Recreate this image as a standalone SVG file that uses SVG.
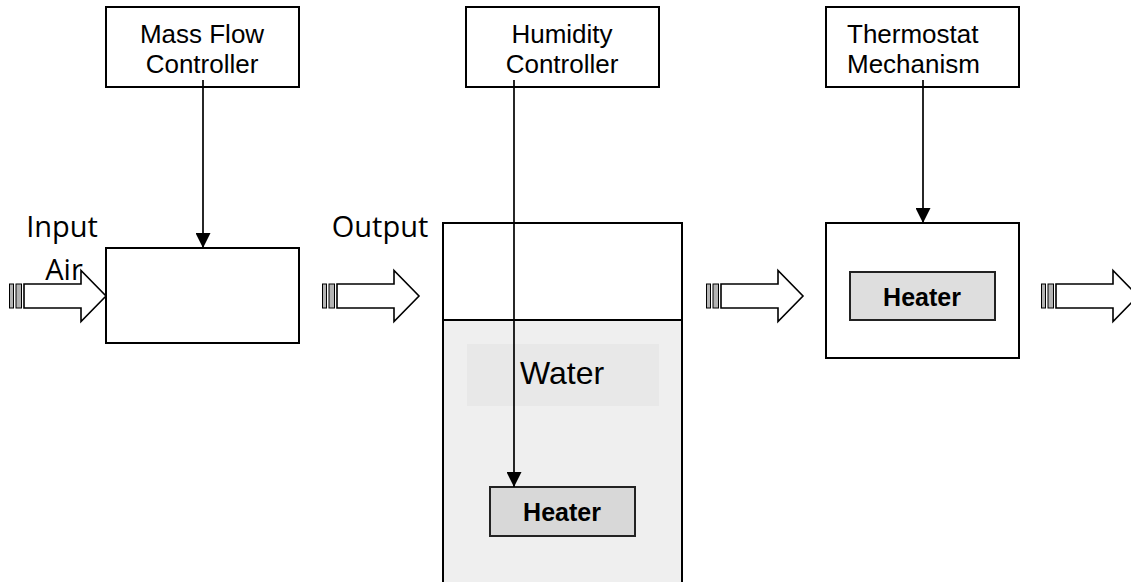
<svg xmlns="http://www.w3.org/2000/svg" width="1131" height="583" viewBox="0 0 1131 583">
<style>
.box{fill:#fff;stroke:#000;stroke-width:2}
.lbl{font-family:"Liberation Sans",Arial,sans-serif;font-size:26px;fill:#000}
.big{font-family:"Open Sans","Liberation Sans",sans-serif;font-size:29px;fill:#000}
.heater{fill:#d8d8d8;stroke:#222;stroke-width:2}
.htxt{font-family:"Liberation Sans",Arial,sans-serif;font-size:25px;font-weight:bold;fill:#000}
.conn{stroke:#000;stroke-width:1.7;fill:none}
.bar{fill:#b4b4b4;stroke:#000;stroke-width:1}
.flow{fill:#fff;stroke:#000;stroke-width:1.6;stroke-linejoin:miter}
</style>
<defs>
<marker id="ah" markerUnits="userSpaceOnUse" markerWidth="15" markerHeight="15" refX="15" refY="7.5" orient="auto">
<path d="M0,0 L15,7.5 L0,15 Z" fill="#000"/>
</marker>
<g id="flowArrow">
<rect class="bar" x="0.5" y="-12" width="4" height="24"/>
<rect class="bar" x="7" y="-12" width="5.5" height="24"/>
<path class="flow" d="M15,-12 H72 V-25.5 L97,0 L72,25.5 V12 H15 Z"/>
</g>
</defs>

<g id="mass-flow-controller">
<rect class="box" x="106" y="7" width="193" height="80"/>
<text class="lbl" x="202" y="43" text-anchor="middle">Mass Flow</text>
<text class="lbl" x="202" y="73" text-anchor="middle">Controller</text>
</g>
<g id="humidity-controller">
<rect class="box" x="466" y="7" width="193" height="80"/>
<text class="lbl" x="562" y="43" text-anchor="middle">Humidity</text>
<text class="lbl" x="562" y="73" text-anchor="middle">Controller</text>
</g>
<g id="thermostat-mechanism">
<rect class="box" x="826" y="7" width="193" height="80"/>
<text class="lbl" x="847" y="43">Thermostat</text>
<text class="lbl" x="847" y="73">Mechanism</text>
</g>

<g id="mass-flow-unit">
<rect class="box" x="106" y="248" width="193" height="95"/>
</g>

<g id="humidifier-tank">
<rect x="443" y="223" width="239" height="97" fill="#fff"/>
<rect x="443" y="320" width="239" height="262" fill="#efefef"/>
<path d="M443,582 V223 H682 V582 M443,320 H682" fill="none" stroke="#000" stroke-width="2"/>
<rect x="467" y="344" width="192" height="62" fill="#e8e8e8"/>
<text x="562" y="384" text-anchor="middle" font-family="Liberation Sans, Arial, sans-serif" font-size="32">Water</text>
</g>
<g id="tank-heater">
<rect class="heater" x="490" y="487" width="145" height="49"/>
<text class="htxt" x="562" y="521" text-anchor="middle">Heater</text>
</g>

<g id="thermostat-chamber">
<rect class="box" x="826" y="223" width="193" height="135"/>
</g>
<g id="chamber-heater">
<rect class="heater" x="850" y="272" width="145" height="48" style="fill:#dedede"/>
<text class="htxt" x="922" y="306" text-anchor="middle">Heater</text>
</g>

<g id="connectors">
<line class="conn" x1="203" y1="80" x2="203" y2="248" marker-end="url(#ah)"/>
<line class="conn" x1="514" y1="80" x2="514" y2="487" marker-end="url(#ah)"/>
<line class="conn" x1="923" y1="80" x2="923" y2="223" marker-end="url(#ah)"/>
<use href="#flowArrow" x="9" y="296"/>
<use href="#flowArrow" x="322" y="296"/>
<use href="#flowArrow" x="706" y="296"/>
<use href="#flowArrow" x="1041" y="296"/>
</g>

<g id="input-label">
<text class="big" x="62" y="237" text-anchor="middle">Input</text>
<text class="big" x="64" y="280" text-anchor="middle">Air</text>
</g>
<g id="output-label">
<text class="big" x="380" y="237" text-anchor="middle">Output</text>
</g>
</svg>
